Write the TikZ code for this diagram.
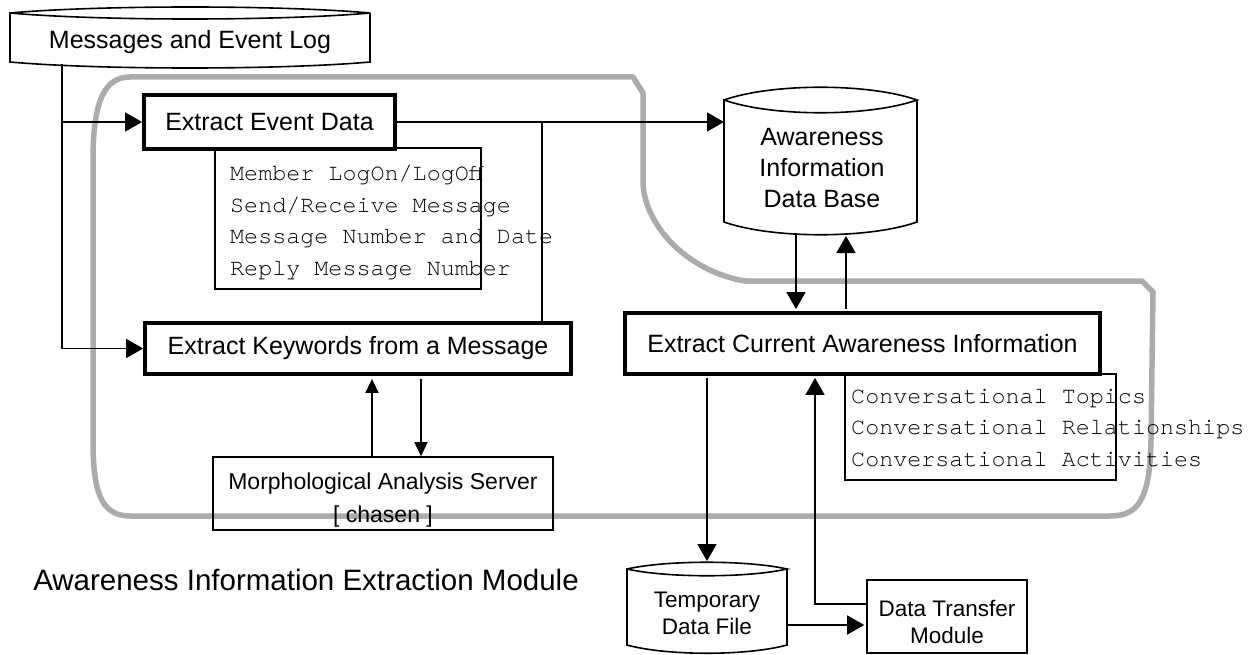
\documentclass[tikz,border=0pt]{standalone}
\usepackage{fontspec}
\setmainfont{Liberation Sans}
\newfontfamily\monofnt{TeX Gyre Cursor}
\usetikzlibrary{arrows.meta,calc}
\definecolor{modgray}{HTML}{ABABAB}
\newcommand\mystore[6]{%
 \draw[conn] (#1,#3) .. controls ({#1+(#2-#1)/4},{#3-#5}) and ({#2-(#2-#1)/4},{#3-#5}) .. (#2,#3)
   .. controls ({#2-(#2-#1)/4},{#3+#5}) and ({#1+(#2-#1)/4},{#3+#5}) .. (#1,#3) -- (#1,#4)
   .. controls ({#1+(#2-#1)/4},{#4+#6}) and ({#2-(#2-#1)/4},{#4+#6}) .. (#2,#4) -- (#2,#3);}
\begin{document}
\begin{tikzpicture}[x=1pt,y=-1pt,
  thickbox/.style={draw,line width=3.8pt,inner sep=0pt,align=center,font=\fontsize{25}{30}\selectfont},
  thinbox/.style={draw,line width=1.6pt,inner sep=0pt,align=center},
  conn/.style={line width=1.6pt},
  arr/.style={conn,-{Triangle[length=17pt,width=19pt]}},
  sarr/.style={conn,-{Triangle[length=14pt,width=13pt]}},
  txt/.style={inner sep=0pt,align=center},
  mono/.style={inner sep=0pt,align=left,anchor=west,font=\monofnt\fontsize{23.4}{31.6}\selectfont},
  module/.style={draw=modgray,line width=5.5pt,line join=round}]
\useasboundingbox (0,0) rectangle (1249,655);
% module outline
\draw[module] (130,77) -- (633,77) -- (643,93) -- (643,183)
  .. controls (645,228) and (690,272) .. (745,281) -- (1142,281) -- (1153,292) -- (1151,440)
  .. controls (1150,500) and (1138,516) .. (1110,516) -- (130,516)
  .. controls (100,516) and (93,490) .. (93,440) -- (93,160)
  .. controls (93,100) and (105,77) .. (130,77) -- cycle;
\node[txt,font=\fontsize{29.5}{35}\selectfont] (modlbl) at (306,580) {Awareness Information Extraction Module};
% stores
\mystore{10}{370}{13}{62}{8}{8}
\node[txt,font=\fontsize{25}{30}\selectfont] (msg) at (190,42) {Messages and Event Log};
\mystore{724}{917}{100}{222}{17}{17}
\node[txt,font=\fontsize{25}{31}\selectfont] (db) at (822,168) {Awareness\\Information\\Data Base};
\mystore{627}{787}{569}{645}{9}{11}
\node[txt,font=\fontsize{22.5}{27}\selectfont] (tmp) at (707,613) {Temporary\\Data File};
% sub boxes
\draw[conn] (215,148) rectangle (481,289);
\node[mono] (evlist) at (230,222.5) {Member LogOn/LogOff\\Send/Receive Message\\Message Number and Date\\Reply Message Number};
\draw[conn] (845,374) rectangle (1116,480);
\node[mono] (curlist) at (851,428) {Conversational Topics\\Conversational Relationships\\Conversational Activities};
% process boxes
\node[thickbox,fill=white,minimum width=251pt,minimum height=54pt] (ev) at (269.5,122) {Extract Event Data};
\node[thickbox,minimum width=426pt,minimum height=51pt] (kw) at (358,348.5) {Extract Keywords from a Message};
\node[thickbox,minimum width=475pt,minimum height=61pt] (cur) at (862.5,343.5) {Extract Current Awareness Information};
\node[thinbox,minimum width=340pt,minimum height=73pt] (morph) at (383,493.5) {};
\node[txt,font=\fontsize{23}{33}\selectfont] (morphtxt) at (383,500) {Morphological Analysis Server\\{[} chasen {]}};
\node[thinbox,minimum width=160pt,minimum height=73pt] (dtm) at (947,616.5) {};
\node[txt,font=\fontsize{22.5}{27}\selectfont] (dtmtxt) at (947,621.5) {Data Transfer\\Module};
% coordinates
\coordinate (m0) at (62,64);
\coordinate (dbL) at (724,122);
\coordinate (j) at (542,122);
\coordinate (dbA) at (796,233);
\coordinate (dbB) at (846,236);
\coordinate (tmpT) at (707,561);
\coordinate (tmpR) at (787,625);
\coordinate (k) at (815,604);
\coordinate (u) at (372,0);
\coordinate (v) at (421,0);
% connectors
\draw[arr] (m0) |- (kw.west);
\draw[arr] (m0 |- ev.west) -- (ev.west);
\draw[arr] (ev.east) -- (dbL);
\draw[conn] (kw.north -| j) -- (j);
\draw[arr,shorten >=2pt] (dbA) -- (dbA |- cur.north);
\draw[arr,shorten <=2pt] (dbB |- cur.north) -- (dbB);
\draw[arr,shorten <=2pt] (cur.south -| tmpT) -- (tmpT);
\draw[arr,shorten >=2pt] (tmpR) -- (tmpR -| dtm.west);
\draw[arr,shorten >=2pt] (k -| dtm.west) -| (k |- cur.south);
\draw[sarr,shorten >=3pt] (u |- morph.north) -- (u |- kw.south);
\draw[sarr,shorten <=3pt] (v |- kw.south) -- (v |- morph.north);
\end{tikzpicture}
\end{document}
